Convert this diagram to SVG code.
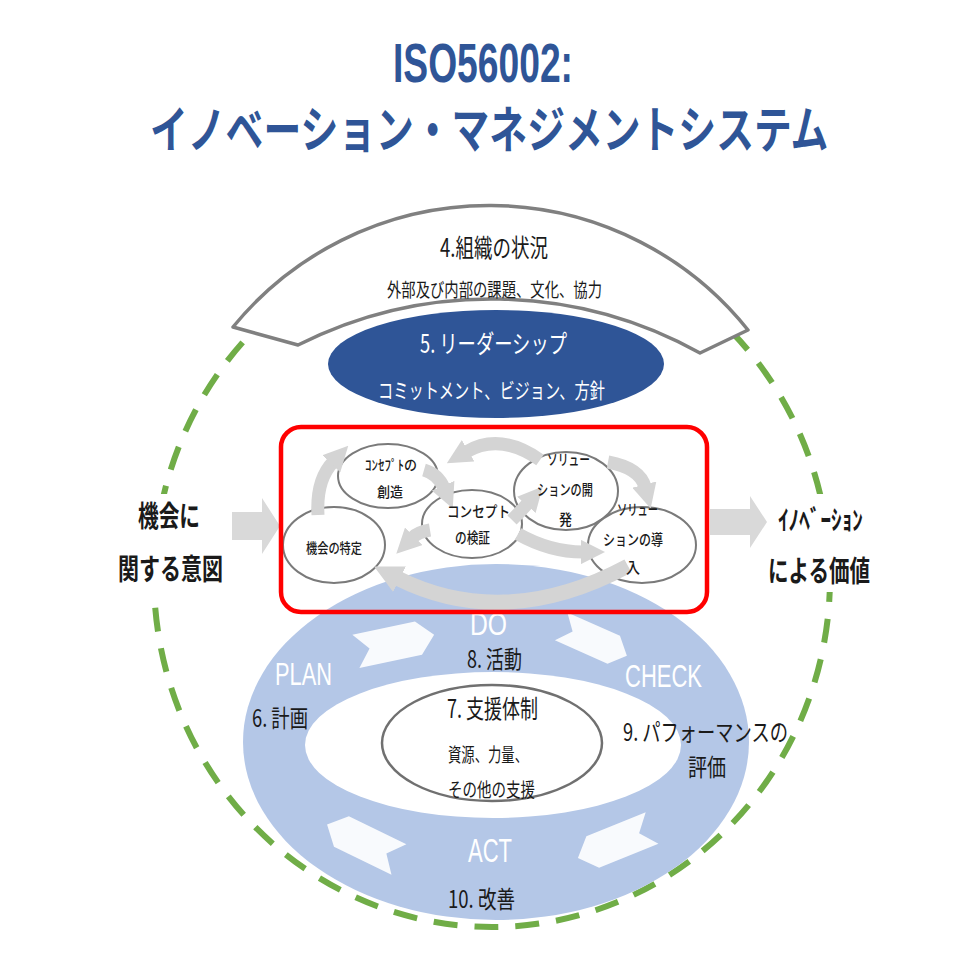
<svg xmlns="http://www.w3.org/2000/svg" width="962" height="962" viewBox="0 0 962 962">
<defs>
<style>
.jp{font-family:'Noto Sans CJK JP','Noto Sans',sans-serif;fill:#1a1a1a}
.lat{font-family:'Liberation Sans',Arial,sans-serif;fill:#ffffff}
.title{font-family:'Liberation Sans','Noto Sans CJK JP',sans-serif;font-weight:bold;fill:#2F5597}
.node{fill:#ffffff;stroke:#7a7a7a;stroke-width:2}
.flow{fill:none;stroke:#D4D4D4;stroke-width:13;marker-end:url(#ah)}
.chev{fill:#ffffff;opacity:0.9}
.big{fill:#D9D9D9}
.small{font-weight:500}
</style>
<marker id="ah" viewBox="0 0 10 10" refX="1" refY="5" markerWidth="1.9" markerHeight="1.9" orient="auto">
<path d="M0,0 L10,5 L0,10 z" fill="#D4D4D4"/>
</marker>
<polygon id="chevron" points="-40,-17 24,-17 40,0 24,17 -40,17 -26,0"/>
</defs>
<rect width="962" height="962" fill="#ffffff"/>

<g id="title">
<text class="title" x="393" y="82" font-size="56" textLength="180" lengthAdjust="spacingAndGlyphs">ISO56002:</text>
<text class="title" transform="translate(150,148) scale(0.756,1)" x="0" y="0" font-size="50" style="font-family:'Noto Sans CJK JP',sans-serif">イノベーション・マネジメントシステム</text>
</g>

<g id="boundary">
<ellipse cx="492" cy="578" rx="338" ry="349" fill="none" stroke="#70AD47" stroke-width="6" stroke-dasharray="24 17"/>
</g>

<g id="leadership">
<ellipse cx="496" cy="364" rx="168" ry="54" fill="#2F5597"/>
</g>

<g id="context">
<path d="M233,327 A331,331 0 0 1 748,330 L700,353 A429,429 0 0 0 298,345 Z" fill="#ffffff" stroke="#808080" stroke-width="3.5" stroke-linejoin="round"/>
<text class="jp" x="440" y="257" font-size="25" textLength="108" lengthAdjust="spacingAndGlyphs">4.組織の状況</text>
<text class="jp" x="387" y="297" font-size="19" textLength="215" lengthAdjust="spacingAndGlyphs">外部及び内部の課題、文化、協力</text>
</g>

<g id="leadership-text">
<text class="jp" x="420" y="353" font-size="25" textLength="147" lengthAdjust="spacingAndGlyphs" style="fill:#ffffff">5. リーダーシップ</text>
<text class="jp" x="378" y="398" font-size="21" textLength="227" lengthAdjust="spacingAndGlyphs" style="fill:#ffffff">コミットメント、ビジョン、方針</text>
</g>

<g id="input">
<rect x="112" y="494" width="118" height="98" fill="#ffffff"/>
<text class="jp" x="138" y="527" font-size="29" font-weight="bold" textLength="62" lengthAdjust="spacingAndGlyphs">機会に</text>
<text class="jp" x="118" y="580" font-size="29" font-weight="bold" textLength="105" lengthAdjust="spacingAndGlyphs">関する意図</text>
</g>

<g id="output">
<rect x="762" y="494" width="114" height="98" fill="#ffffff"/>
<text class="jp" x="778" y="530" font-size="27" font-weight="bold" textLength="85" lengthAdjust="spacingAndGlyphs">ｲﾉﾍﾞｰｼｮﾝ</text>
<text class="jp" x="768" y="582" font-size="29" font-weight="bold" textLength="102" lengthAdjust="spacingAndGlyphs">による価値</text>
</g>

<g id="pdca">
<ellipse cx="496" cy="742" rx="253" ry="178" fill="#B4C7E7"/>
<ellipse cx="493" cy="745" rx="188" ry="73" fill="#ffffff"/>
<use href="#chevron" class="chev" transform="translate(395,643) rotate(-12)"/>
<use href="#chevron" class="chev" transform="translate(594,641) rotate(24) scale(0.9)"/>
<use href="#chevron" class="chev" transform="translate(615,843) rotate(158)"/>
<use href="#chevron" class="chev" transform="translate(363,842) rotate(206)"/>
<text class="lat" x="470" y="635" font-size="31" textLength="37" lengthAdjust="spacingAndGlyphs">DO</text>
<text class="lat" x="275" y="685" font-size="32" textLength="57" lengthAdjust="spacingAndGlyphs">PLAN</text>
<text class="lat" x="625" y="687" font-size="32" textLength="77" lengthAdjust="spacingAndGlyphs">CHECK</text>
<text class="lat" x="468" y="862" font-size="34" textLength="44" lengthAdjust="spacingAndGlyphs">ACT</text>
<text class="jp" x="467" y="668" font-size="24" textLength="55" lengthAdjust="spacingAndGlyphs">8. 活動</text>
<text class="jp" x="252" y="727" font-size="24" textLength="56" lengthAdjust="spacingAndGlyphs">6. 計画</text>
<text class="jp" x="623" y="741" font-size="24" textLength="165" lengthAdjust="spacingAndGlyphs">9. パフォーマンスの</text>
<text class="jp" x="688" y="776" font-size="24" textLength="38" lengthAdjust="spacingAndGlyphs">評価</text>
<text class="jp" x="448" y="908" font-size="24" textLength="67" lengthAdjust="spacingAndGlyphs">10. 改善</text>
</g>

<g id="support">
<ellipse cx="492" cy="743" rx="110" ry="58" fill="none" stroke="#707070" stroke-width="2.5"/>
<text class="jp" x="447" y="718" font-size="25" textLength="91" lengthAdjust="spacingAndGlyphs">7. 支援体制</text>
<text class="jp" x="448" y="762" font-size="19" textLength="80" lengthAdjust="spacingAndGlyphs">資源、力量、</text>
<text class="jp" x="448" y="797" font-size="19" textLength="87" lengthAdjust="spacingAndGlyphs">その他の支援</text>
</g>

<g id="arrows-io">
<polygon class="big" points="232,512 262,512 262,498 280,526 262,554 262,540 232,540"/>
<polygon class="big" points="710,509 750,509 750,496 767,522 750,548 750,535 710,535"/>
</g>

<g id="n-opportunity"><ellipse class="node" cx="334" cy="545" rx="51" ry="38"/></g>
<g id="n-concept-create"><ellipse class="node" cx="388" cy="476" rx="50" ry="32"/></g>
<g id="n-concept-validate"><ellipse class="node" cx="472" cy="524" rx="50" ry="34"/></g>
<g id="n-solution-develop"><ellipse class="node" cx="566" cy="491" rx="52" ry="39"/></g>
<g id="n-solution-deploy"><ellipse class="node" cx="642" cy="545" rx="54" ry="38"/></g>

<g id="connectors">
<path class="flow" d="M318,515 Q316,480 333,462"/>
<path class="flow" d="M424,470 Q438,474 444,488"/>
<path class="flow" d="M430,530 Q418,532 412,538"/>
<path class="flow" d="M628,566 Q505,632 397,578" style="stroke-width:15"/>
<path class="flow" d="M512,520 Q520,512 528,503"/>
<path class="flow" d="M608,462 Q640,468 645,487"/>
<path class="flow" d="M518,534 Q550,552 583,552"/>
<path class="flow" d="M540,460 Q500,432 466,452"/>
</g>

<g id="process-labels">
<text class="jp small" x="306" y="553" font-size="14" textLength="56" lengthAdjust="spacingAndGlyphs">機会の特定</text>
<text class="jp small" x="365" y="470" font-size="14" textLength="52" lengthAdjust="spacingAndGlyphs">ｺﾝｾﾌﾟﾄの</text>
<text class="jp small" x="377" y="497" font-size="14" textLength="26" lengthAdjust="spacingAndGlyphs">創造</text>
<text class="jp small" x="447" y="517" font-size="15" textLength="63" lengthAdjust="spacingAndGlyphs">コンセプト</text>
<text class="jp small" x="455" y="543" font-size="15" textLength="35" lengthAdjust="spacingAndGlyphs">の検証</text>
<text class="jp small" x="547" y="465" font-size="15" textLength="43" lengthAdjust="spacingAndGlyphs">ソリュー</text>
<text class="jp small" x="537" y="495" font-size="15" textLength="56" lengthAdjust="spacingAndGlyphs">ションの開</text>
<text class="jp small" x="559" y="525" font-size="15" textLength="13" lengthAdjust="spacingAndGlyphs">発</text>
<text class="jp small" x="617" y="515" font-size="15" textLength="41" lengthAdjust="spacingAndGlyphs">ソリュー</text>
<text class="jp small" x="603" y="545" font-size="15" textLength="60" lengthAdjust="spacingAndGlyphs">ションの導</text>
<text class="jp small" x="626" y="573" font-size="15" textLength="14" lengthAdjust="spacingAndGlyphs">入</text>
</g>

<g id="highlight">
<rect x="281" y="427" width="426" height="185" rx="20" fill="none" stroke="#FF0000" stroke-width="4.5"/>
</g>
</svg>
